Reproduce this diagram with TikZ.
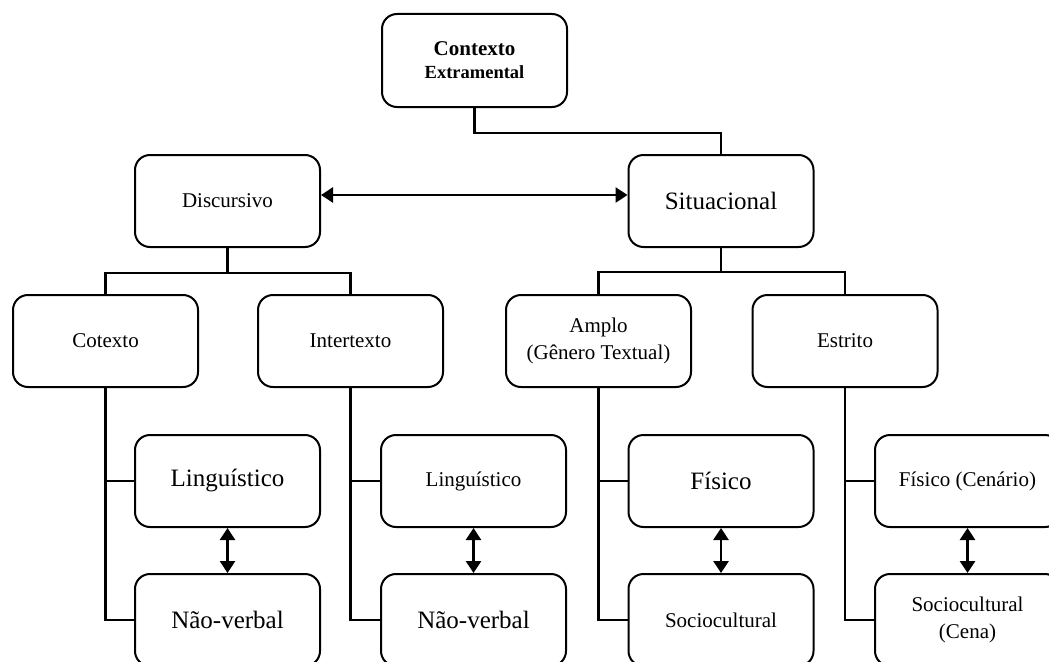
\documentclass[tikz,border=0pt]{standalone}
\usepackage{fontspec}
\setmainfont{Liberation Serif}
\usetikzlibrary{arrows.meta}

\begin{document}
\begin{tikzpicture}[x=1pt,y=-1pt,
	box/.style={draw,line width=2pt,rounded corners=15pt,minimum width=185pt,minimum height=92pt,align=center,inner sep=2pt},
	small/.style={font=\fontsize{21}{27}\selectfont},
	big/.style={font=\fontsize{25}{30}\selectfont},
	link/.style={line width=2.8pt},
	both/.style={line width=2.8pt,{Triangle[length=12pt,width=15pt]}-{Triangle[length=12pt,width=15pt]}}]
	\clip (0,0) rectangle (1049,661);

	% Top box
	\node[box,minimum height=93pt,font=\bfseries\fontsize{21}{23}\selectfont] (ctx) at (474.5,60.5) {Contexto\\{\fontsize{18.5}{23}\selectfont Extramental}};

	% Discursivo / Situacional
	\node[box,small] (disc) at (227.5,201) {Discursivo};
	\node[box,big] (sit) at (721,201) {Situacional};

	% Second row
	\node[box,small] (cot) at (105.5,341) {Cotexto};
	\node[box,small] (inter) at (350.5,341) {Intertexto};
	\node[box,small] (amplo) at (598.5,341) {Amplo\\(Gênero Textual)};
	\node[box,small] (estr) at (845,341) {Estrito};

	% Third row
	\node[box,big] (ling1) at (227.5,481) {Linguístico};
	\node[box,small] (ling2) at (473.5,481) {Linguístico};
	\node[box,big] (fis1) at (721,481) {Físico};
	\node[box,small] (fis2) at (967.5,481) {Físico (Cenário)};

	% Fourth row
	\node[box,big] (nv1) at (227.5,620) {Não-verbal};
	\node[box,big] (nv2) at (473.5,620) {Não-verbal};
	\node[box,small] (soc1) at (721,620) {Sociocultural};
	\node[box,small] (soc2) at (967.5,620) {Sociocultural\\(Cena)};

	% Tree lines
	\draw[link] (ctx.south) -- ++(0,25) -| (sit.north);
	\draw[link] (disc.south) -- ++(0,25) -| (cot.north);
	\draw[link] (disc.south) -- ++(0,25) -| (inter.north);
	\draw[link] (sit.south) -- ++(0,24) -| (amplo.north);
	\draw[link] (sit.south) -- ++(0,24) -| (estr.north);
	\draw[link] (cot.south) |- (ling1.west);
	\draw[link] (cot.south) |- (nv1.west);
	\draw[link] (inter.south) |- (ling2.west);
	\draw[link] (inter.south) |- (nv2.west);
	\draw[link] (amplo.south) |- (fis1.west);
	\draw[link] (amplo.south) |- (soc1.west);
	\draw[link] (estr.south) |- (fis2.west);
	\draw[link] (estr.south) |- (soc2.west);

	% Double arrows
	\draw[both] ([yshift=6pt]disc.east) -- ([yshift=6pt]sit.west);
	\draw[both] (ling1.south) -- (nv1.north);
	\draw[both] (ling2.south) -- (nv2.north);
	\draw[both] (fis1.south) -- (soc1.north);
	\draw[both] (fis2.south) -- (soc2.north);

\end{tikzpicture}
\end{document}
